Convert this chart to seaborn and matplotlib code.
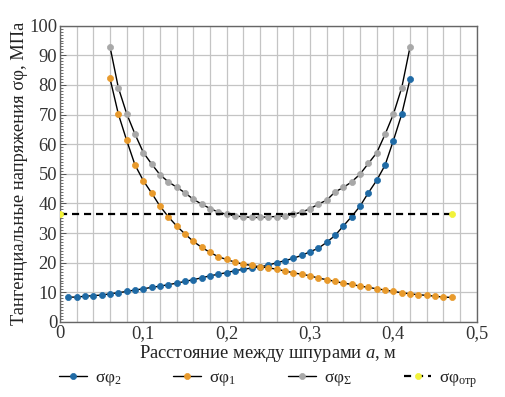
import numpy as np
import pandas as pd
import matplotlib
matplotlib.use("Agg")
import matplotlib.pyplot as plt
from matplotlib.ticker import MultipleLocator
import seaborn as sns

# ---- data ----
x_phi2 = [0.01, 0.02, 0.03, 0.04, 0.05, 0.06, 0.07, 0.08, 0.09, 0.10, 0.11, 0.12,
          0.13, 0.14, 0.15, 0.16, 0.17, 0.18, 0.19, 0.20, 0.21, 0.22, 0.23, 0.24,
          0.25, 0.26, 0.27, 0.28, 0.29, 0.30, 0.31, 0.32, 0.33, 0.34, 0.35, 0.36,
          0.37, 0.38, 0.39, 0.40, 0.41, 0.42]
phi2 = [8.4, 8.4, 8.7, 8.9, 9.1, 9.5, 9.9, 10.3, 10.8, 11.2, 11.7, 12.1,
        12.6, 13.1, 13.7, 14.3, 14.9, 15.6, 16.1, 16.7, 17.3, 17.8, 18.2, 18.6,
        19.2, 20.0, 20.7, 21.5, 22.5, 23.7, 24.9, 26.9, 29.2, 32.4, 35.6, 39.1,
        43.6, 47.8, 52.9, 61.2, 70.1, 82.0]

x_phi1 = [0.06, 0.07, 0.08, 0.09, 0.10, 0.11, 0.12, 0.13, 0.14, 0.15, 0.16, 0.17,
          0.18, 0.19, 0.20, 0.21, 0.22, 0.23, 0.24, 0.25, 0.26, 0.27, 0.28, 0.29,
          0.30, 0.31, 0.32, 0.33, 0.34, 0.35, 0.36, 0.37, 0.38, 0.39, 0.40, 0.41,
          0.42, 0.43, 0.44, 0.45, 0.46, 0.47]
phi1 = [82.2, 70.2, 61.3, 53.0, 47.7, 43.5, 39.1, 35.5, 32.4, 29.7, 27.2, 25.2,
        23.5, 22.0, 21.1, 20.2, 19.5, 19.1, 18.6, 18.3, 17.8, 17.2, 16.6, 16.1,
        15.6, 14.8, 14.3, 13.7, 13.1, 12.7, 12.1, 11.7, 11.2, 10.8, 10.3, 9.9,
        9.5, 9.2, 9.0, 8.7, 8.4, 8.3]

x_sum = [0.06, 0.07, 0.08, 0.09, 0.10, 0.11, 0.12, 0.13, 0.14, 0.15, 0.16, 0.17,
         0.18, 0.19, 0.20, 0.21, 0.22, 0.23, 0.24, 0.25, 0.26, 0.27, 0.28, 0.29,
         0.30, 0.31, 0.32, 0.33, 0.34, 0.35, 0.36, 0.37, 0.38, 0.39, 0.40, 0.41,
         0.42]
phi_sum = [92.9, 79.1, 70.3, 63.4, 57.2, 53.3, 49.7, 47.3, 45.5, 43.6, 41.4, 39.8,
           38.3, 37.1, 36.3, 35.8, 35.5, 35.3, 35.3, 35.5, 35.6, 35.8, 36.3, 37.1,
           38.2, 39.8, 41.1, 43.9, 45.4, 47.3, 49.9, 53.5, 57.1, 63.3, 70.1, 79.0,
           92.8]

x_otr = [0.0, 0.47]
phi_otr = [36.4, 36.4]

x_ticks = [0, 0.1, 0.2, 0.3, 0.4, 0.5]
x_ticklabels = ["0", "0,1", "0,2", "0,3", "0,4", "0,5"]
y_ticks = [0, 10, 20, 30, 40, 50, 60, 70, 80, 90, 100]

labels = [r"σφ$_2$", r"σφ$_1$", r"σφ$_\Sigma$", r"σφ$_{\mathregular{отр}}$"]
colors = ["#1f6aa5", "#e89a2c", "#a8a8a8", "#f2f23a"]

# ---- style ----
sns.set_theme(style="white")
plt.rcParams["font.family"] = ["Liberation Serif", "DejaVu Serif"]
plt.rcParams["mathtext.fontset"] = "custom"
plt.rcParams["mathtext.rm"] = "Liberation Serif"
plt.rcParams["mathtext.it"] = "Liberation Serif:italic"
plt.rcParams["mathtext.bf"] = "Liberation Serif:bold"

fig = plt.figure(figsize=(5.06, 3.97), dpi=100)
ax = fig.add_axes([60 / 506, 1 - 322 / 397, (476.7 - 60) / 506, (322 - 25.7) / 397])

series = [(x_phi2, phi2), (x_phi1, phi1), (x_sum, phi_sum)]
for (xs, ys), lab, c in zip(series, labels[:3], colors[:3]):
    df = pd.DataFrame({"x": xs, "y": ys})
    sns.lineplot(data=df, x="x", y="y", ax=ax, color="black", linewidth=1.0,
                 marker="o", markersize=4.4, markerfacecolor=c,
                 markeredgecolor=c, markeredgewidth=0.5, label=lab,
                 sort=True, zorder=3)

df_otr = pd.DataFrame({"x": x_otr, "y": phi_otr})
sns.lineplot(data=df_otr, x="x", y="y", ax=ax, color="black", linewidth=1.6,
             linestyle=(0, (3.2, 2.2)), marker="o", markersize=4.4,
             markerfacecolor=colors[3], markeredgecolor=colors[3],
             markeredgewidth=0.5, label=labels[3], zorder=3)

ax.set_xlim(0, 0.5)
ax.set_ylim(0, 100)
ax.set_xticks(x_ticks)
ax.set_xticklabels(x_ticklabels)
ax.set_yticks(y_ticks)
ax.xaxis.set_minor_locator(MultipleLocator(0.02))
ax.yaxis.set_minor_locator(MultipleLocator(1))

ax.grid(True, which="major", axis="both", color="#c4c4c4", linewidth=0.9)
ax.grid(True, which="minor", axis="x", color="#c4c4c4", linewidth=0.9)
ax.set_axisbelow(True)

ax.tick_params(axis="both", which="major", labelsize=13.3, colors="#333333",
               length=0, pad=2)
ax.tick_params(axis="y", which="minor", direction="in", length=2.5,
               width=0.6, color="#555555", left=True)
ax.tick_params(axis="x", which="minor", length=0)
ax.tick_params(axis="y", which="major", direction="in", length=4, width=0.7,
               color="#555555", left=True)

for s in ax.spines.values():
    s.set_visible(True)
    s.set_color("#666666")
    s.set_linewidth(1.0)

ax.set_xlabel("Расстояние между шпурами $\\it{a}$, м", fontsize=13.3,
              color="#222222", labelpad=1)
ax.set_ylabel("Тангенциальные напряжения σφ, МПа", fontsize=13.3,
              color="#222222", labelpad=1)

leg = ax.legend(loc="center", bbox_to_anchor=(0.5, -0.195), ncol=4,
                frameon=False, fontsize=12.5, handlelength=1.6,
                columnspacing=3.0, handletextpad=0.45)
for t in leg.get_texts():
    t.set_color("#222222")

fig.savefig("out.png", dpi=100)
